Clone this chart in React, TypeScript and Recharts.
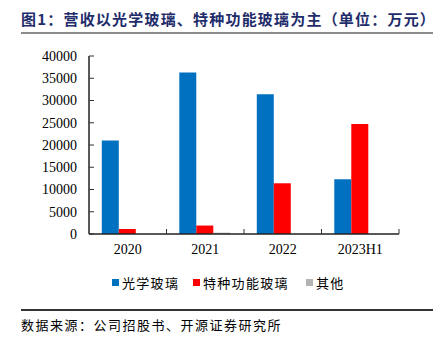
import React from 'react';
import { BarChart, Bar, XAxis, YAxis, Legend } from 'recharts';

const categories = ['2020', '2021', '2022', '2023H1'];
const opticalGlass = [21000, 36300, 31400, 12300];
const specialGlass = [1100, 1900, 11400, 24700];
const others = [0, 300, 0, 0];
const yTicks = [0, 5000, 10000, 15000, 20000, 25000, 30000, 35000, 40000];

const seriesNames = ['光学玻璃', '特种功能玻璃', '其他'];
const seriesColors = ['#0070C0', '#FF0000', '#B4B4B4'];

const data = categories.map((c, i) => ({
  name: c,
  a: opticalGlass[i],
  b: specialGlass[i],
  c: others[i],
}));

const CJK = '"Noto Sans CJK SC", "Noto Sans", sans-serif';
const SERIF = '"Liberation Serif", "DejaVu Serif", serif';

const XTick = (props: any) => {
  const { x, y, payload } = props;
  const off = payload && payload.offset ? payload.offset : 0;
  const axisY = y - 8;
  return (
    <g>
      <line x1={x + off} x2={x + off} y1={axisY} y2={axisY - 5} stroke="#333" strokeWidth={1} />
      <text x={x} y={y} dy={12} textAnchor="middle" fontFamily={SERIF} fontSize={14} fill="#000">
        {payload.value}
      </text>
    </g>
  );
};

const LegendContent = () => (
  <div style={{ position: 'relative', width: 443, height: 0, fontFamily: CJK, fontSize: 13, color: '#000' }}>
    {seriesNames.map((n, i) => {
      const lefts = [112, 193, 306];
      return (
        <div key={n} style={{ position: 'absolute', left: lefts[i], top: 0, display: 'flex', alignItems: 'center', height: 18 }}>
          <span style={{ display: 'inline-block', width: 7, height: 7, background: seriesColors[i], marginRight: 3 }} />
          <span style={{ letterSpacing: 1.3 }}>{n}</span>
        </div>
      );
    })}
  </div>
);

export default function App() {
  return (
    <div style={{ position: 'absolute', left: 0, top: 0, width: 443, height: 342, background: '#fff', overflow: 'hidden' }}>
      <div style={{ position: 'absolute', left: 21, top: 9, fontFamily: CJK, fontWeight: 700, fontSize: 15, color: '#1F2D6B', whiteSpace: 'nowrap', letterSpacing: 1.2, lineHeight: '20px' }}>
        图1：营收以光学玻璃、特种功能玻璃为主（单位：万元）
      </div>
      <div style={{ position: 'absolute', left: 21, top: 32, width: 412, height: 2, background: '#8C8C8C' }} />
      <div style={{ position: 'absolute', left: 0, top: 0 }}>
        <BarChart
          width={443}
          height={300}
          data={data}
          margin={{ top: 56, right: 44, left: 29, bottom: 36 }}
          barCategoryGap="16.5%"
          barGap={0}
        >
          <XAxis
            dataKey="name"
            height={30}
            tickLine={false}
            tickSize={0}
            tickMargin={8}
            axisLine={{ stroke: '#222', strokeWidth: 1.5 }}
            tick={<XTick />}
            interval={0}
          />
          <YAxis
            width={60}
            domain={[0, 40000]}
            ticks={yTicks}
            interval={0}
            tickSize={-5}
            tickMargin={17}
            tickLine={{ stroke: '#333' }}
            axisLine={{ stroke: '#222', strokeWidth: 1.5 }}
            tick={{ fontFamily: SERIF, fontSize: 14, fill: '#000' }}
          />
          <Legend verticalAlign="bottom" height={0} wrapperStyle={{ position: 'absolute', top: 273, left: 0, width: 443, height: 0 }} content={<LegendContent />} />
          <Bar dataKey="a" name={seriesNames[0]} fill={seriesColors[0]} isAnimationActive={false} />
          <Bar dataKey="b" name={seriesNames[1]} fill={seriesColors[1]} isAnimationActive={false} />
          <Bar dataKey="c" name={seriesNames[2]} fill={seriesColors[2]} isAnimationActive={false} />
        </BarChart>
      </div>
      <div style={{ position: 'absolute', left: 21, top: 309, width: 412, height: 1.5, background: '#333' }} />
      <div style={{ position: 'absolute', left: 21, top: 316, fontFamily: CJK, fontSize: 13, color: '#000', whiteSpace: 'nowrap', letterSpacing: 1.5, lineHeight: '18px' }}>
        数据来源：公司招股书、开源证券研究所
      </div>
    </div>
  );
}
